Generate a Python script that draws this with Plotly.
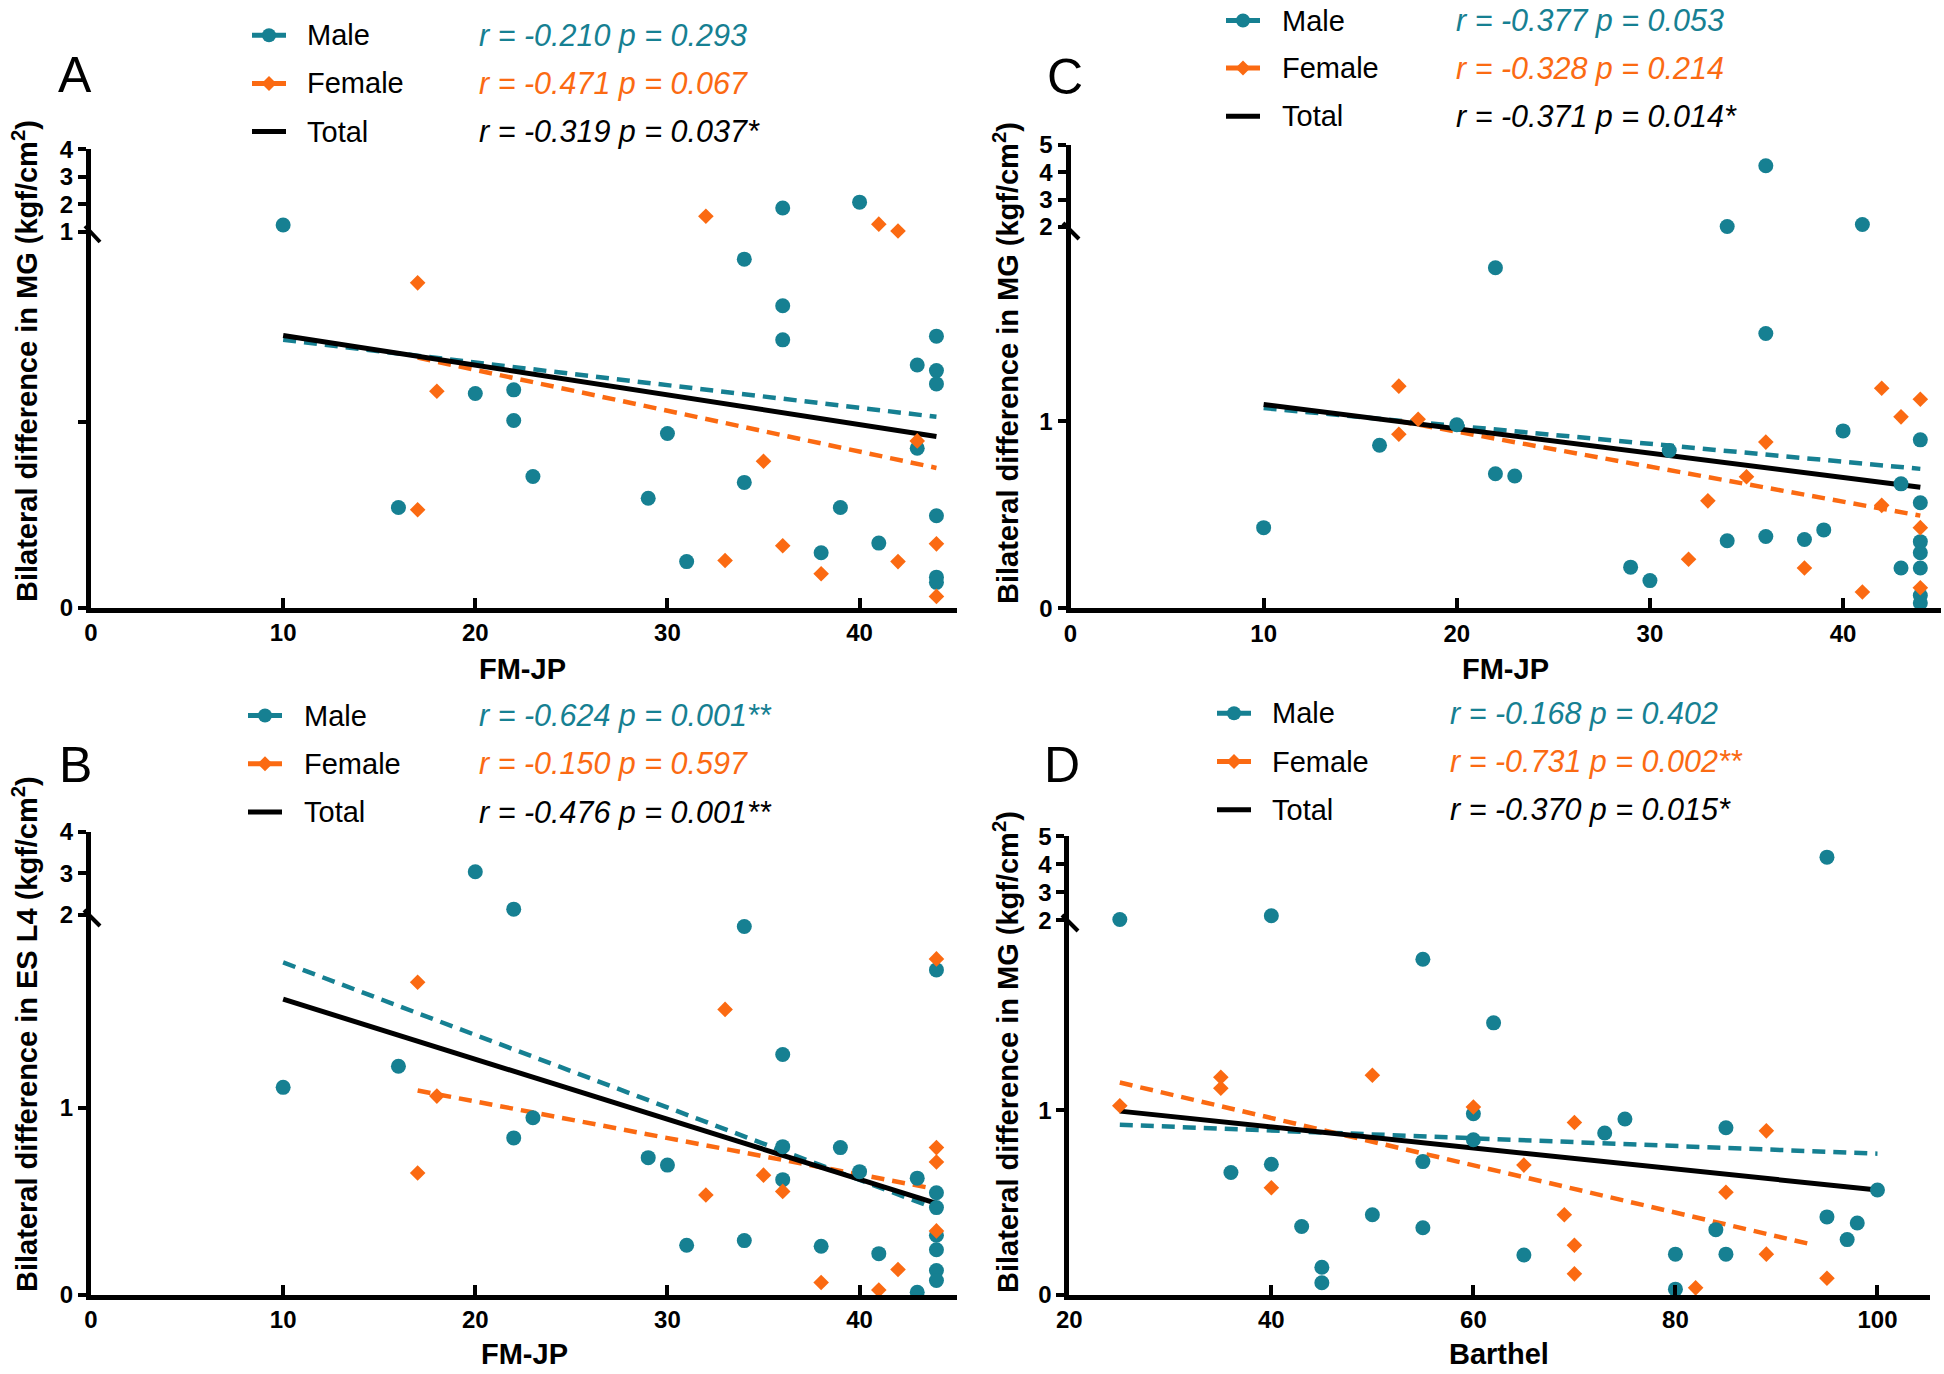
import plotly.graph_objects as go

W, H = 1944, 1374
TEAL = "#168092"
ORANGE = "#FB6A12"
BLACK = "#000000"
FONT = "Liberation Sans, Arial, sans-serif"

# ---------------- DATA ----------------
# Panel A : FM-JP vs bilateral difference in MG
a_male_x = [10, 16, 20, 22, 22, 23, 29, 30, 31, 34, 34, 36, 36, 36, 38, 39, 40, 41, 43, 43, 44, 44, 44, 44, 44, 44]
a_male_y = [1.24, 0.27, 0.578, 0.588, 0.505, 0.354, 0.295, 0.470, 0.124, 0.941, 0.338, 1.86, 0.815, 0.723,
            0.148, 0.27, 2.07, 0.174, 0.655, 0.43, 0.733, 0.64, 0.604, 0.248, 0.082, 0.068]
a_female_x = [17, 17, 18, 32, 33, 35, 36, 38, 41, 42, 42, 43, 44, 44]
a_female_y = [0.877, 0.264, 0.584, 1.56, 0.127, 0.395, 0.167, 0.091, 1.27, 1.02, 0.124, 0.45, 0.172, 0.03]
a_fit_male = ([10, 44], [0.723, 0.515])
a_fit_female = ([17, 44], [0.675, 0.377])
a_fit_total = ([10, 44], [0.735, 0.462])
a_stats = ["r = -0.210 p = 0.293", "r = -0.471 p = 0.067", "r = -0.319 p = 0.037*"]

# Panel B : FM-JP vs bilateral difference in ES L4
b_male_x = [10, 16, 20, 22, 22, 23, 29, 30, 31, 34, 34, 36, 36, 36, 38, 39, 40, 41, 43, 43, 44, 44, 44, 44, 44, 44, 44]
b_male_y = [1.111, 1.224, 3.04, 2.14, 0.84, 0.948, 0.734, 0.694, 0.264, 1.974, 0.289, 1.287, 0.793, 0.616,
            0.259, 0.788, 0.659, 0.219, 0.624, 0.012, 1.741, 0.546, 0.466, 0.318, 0.24, 0.129, 0.075]
b_female_x = [17, 17, 18, 32, 33, 35, 36, 38, 41, 42, 44, 44, 44, 44]
b_female_y = [1.675, 0.652, 1.064, 0.534, 1.529, 0.64, 0.553, 0.064, 0.024, 0.134, 1.8, 0.788, 0.711, 0.341]
b_fit_male = ([10, 44], [1.781, 0.459])
b_fit_female = ([17, 44], [1.094, 0.565])
b_fit_total = ([10, 44], [1.584, 0.489])
b_stats = ["r = -0.624 p = 0.001**", "r = -0.150 p = 0.597", "r = -0.476 p = 0.001**"]

# Panel C : FM-JP vs bilateral difference in MG
c_male_x = [10, 16, 20, 22, 22, 23, 29, 30, 31, 34, 34, 36, 36, 36, 38, 39, 40, 41, 43, 43, 44, 44, 44, 44, 44, 44, 44]
c_male_y = [0.431, 0.871, 0.981, 1.82, 0.719, 0.707, 0.22, 0.148, 0.843, 2.02, 0.361, 4.23, 1.468, 0.384,
            0.368, 0.419, 0.948, 2.09, 0.665, 0.215, 0.9, 0.564, 0.356, 0.297, 0.215, 0.068, 0.028]
c_female_x = [17, 17, 18, 32, 33, 35, 36, 38, 41, 42, 42, 43, 44, 44, 44]
c_female_y = [1.187, 0.93, 1.01, 0.262, 0.574, 0.703, 0.888, 0.215, 0.087, 1.176, 0.55, 1.023, 1.117, 0.431, 0.11]
c_fit_male = ([10, 44], [1.07, 0.745])
c_fit_female = ([17, 44], [1.0, 0.495])
c_fit_total = ([10, 44], [1.089, 0.647])
c_stats = ["r = -0.377 p = 0.053", "r = -0.328 p = 0.214", "r = -0.371 p = 0.014*"]

# Panel D : Barthel vs bilateral difference in MG
d_male_x = [25, 36, 40, 40, 43, 45, 45, 50, 55, 55, 55, 60, 60, 62, 65, 73, 75, 80, 80, 84, 85, 85, 95, 95, 97, 98, 100]
d_male_y = [2.03, 0.662, 2.16, 0.707, 0.369, 0.148, 0.064, 0.433, 1.819, 0.721, 0.362, 0.981, 0.84, 1.474,
            0.214, 0.876, 0.952, 0.219, 0.029, 0.352, 0.905, 0.219, 4.25, 0.421, 0.298, 0.388, 0.567]
d_female_x = [25, 35, 35, 40, 50, 60, 65, 69, 70, 70, 70, 82, 85, 89, 89, 95]
d_female_y = [1.024, 1.179, 1.119, 0.579, 1.19, 1.017, 0.702, 0.433, 0.933, 0.267, 0.112, 0.036, 0.555,
              0.888, 0.219, 0.088]
d_fit_male = ([25, 100], [0.921, 0.764])
d_fit_female = ([25, 93.6], [1.15, 0.27])
d_fit_total = ([25, 100], [0.995, 0.567])
d_stats = ["r = -0.168 p = 0.402", "r = -0.731 p = 0.002**", "r = -0.370 p = 0.015*"]

series_names = ["Male", "Female", "Total"]

# ---------------- LAYOUT SPECS (page-pixel geometry) ----------------
panels = [
    dict(letter="A", xa="x", ylo="y", yhi="y2",
         male=(a_male_x, a_male_y), female=(a_female_x, a_female_y),
         fits=(a_fit_male, a_fit_female, a_fit_total), stats=a_stats,
         xdom=(91, 957), xrange=(0, 45.07), xticks=[0, 10, 20, 30, 40],
         lo_px=(607.5, 234.5), lo_range=(0, 1.0076), lo_ticks=[0], lo_minor=[0.5],
         hi_px=(234.5, 149.1), hi_range=(0.8945, 4), hi_ticks=[1, 2, 3, 4], brk=1.0,
         slash=((85, 226), (100, 242)),
         leg_icon=(252, 286), leg_text=305, leg_stat=477, leg_rows=(35.2, 83.4, 131.6),
         letter_pos=(74.5, 75), ytitle="Bilateral difference in MG (kgf/cm<sup>2</sup>)",
         ytitle_pos=(25, 361), xtitle="FM-JP", xtitle_pos=(522, 669)),
    dict(letter="B", xa="x2", ylo="y3", yhi="y4",
         male=(b_male_x, b_male_y), female=(b_female_x, b_female_y),
         fits=(b_fit_male, b_fit_female, b_fit_total), stats=b_stats,
         xdom=(91, 957), xrange=(0, 45.07), xticks=[0, 10, 20, 30, 40],
         lo_px=(1294.5, 918), lo_range=(0, 2.0193), lo_ticks=[0, 1], lo_minor=[],
         hi_px=(918, 831.7), hi_range=(1.928, 4), hi_ticks=[2, 3, 4], brk=2.0,
         slash=((84, 910), (100, 926)),
         leg_icon=(248, 282), leg_text=302, leg_stat=477, leg_rows=(715.5, 763.8, 812),
         letter_pos=(75, 765), ytitle="Bilateral difference in ES L4 (kgf/cm<sup>2</sup>)",
         ytitle_pos=(25, 1034), xtitle="FM-JP", xtitle_pos=(524, 1354)),
    dict(letter="C", xa="x3", ylo="y5", yhi="y6",
         male=(c_male_x, c_male_y), female=(c_female_x, c_female_y),
         fits=(c_fit_male, c_fit_female, c_fit_total), stats=c_stats,
         xdom=(1070.5, 1941), xrange=(0, 45.07), xticks=[0, 10, 20, 30, 40],
         lo_px=(608.3, 231), lo_range=(0, 2.016), lo_ticks=[0, 1], lo_minor=[],
         hi_px=(231, 144.7), hi_range=(1.854, 5), hi_ticks=[2, 3, 4, 5], brk=2.0,
         slash=((1063, 223), (1079, 239)),
         leg_icon=(1226, 1260), leg_text=1280, leg_stat=1454, leg_rows=(20.5, 68, 116.2),
         letter_pos=(1065, 77), ytitle="Bilateral difference in MG (kgf/cm<sup>2</sup>)",
         ytitle_pos=(1006, 363), xtitle="FM-JP", xtitle_pos=(1505, 669)),
    dict(letter="D", xa="x4", ylo="y7", yhi="y8",
         male=(d_male_x, d_male_y), female=(d_female_x, d_female_y),
         fits=(d_fit_male, d_fit_female, d_fit_total), stats=d_stats,
         xdom=(1069.3, 1930), xrange=(20, 105.2), xticks=[20, 40, 60, 80, 100],
         lo_px=(1294.5, 923), lo_range=(0, 2.0157), lo_ticks=[0, 1], lo_minor=[],
         hi_px=(923, 836.1), hi_range=(1.904, 5), hi_ticks=[2, 3, 4, 5], brk=2.0,
         slash=((1062, 915), (1078, 931)),
         leg_icon=(1217, 1251), leg_text=1270, leg_stat=1448, leg_rows=(713.3, 761.6, 809.8),
         letter_pos=(1062, 765), ytitle="Bilateral difference in MG (kgf/cm<sup>2</sup>)",
         ytitle_pos=(1006, 1052), xtitle="Barthel", xtitle_pos=(1499, 1354)),
]


def px(x):
    return x / W


def py(y):
    return 1 - y / H


def axkey(ref):
    return ref[0] + "axis" + ref[1:]


fig = go.Figure()
layout = dict(template="none", width=W, height=H,
              margin=dict(l=0, r=0, t=0, b=0, pad=0, autoexpand=False),
              paper_bgcolor="white", plot_bgcolor="rgba(0,0,0,0)",
              showlegend=False, font=dict(family=FONT, color="black"))
shapes = []
annotations = []

tickfont = dict(family=FONT, size=24, color="black", weight="bold")
series_colors = [TEAL, ORANGE, BLACK]
AXW = 5

for p in panels:
    xa, ylo, yhi = p["xa"], p["ylo"], p["yhi"]
    x0p, x1p = p["xdom"]
    r0, r1 = p["xrange"]
    scale = (x1p - x0p) / (r1 - r0)
    x1c = min(x1p, W)
    r1c = r0 + (x1c - x0p) / scale
    layout[axkey(xa)] = dict(domain=[max(px(x0p), 0), min(px(x1c), 1)], range=[r0, r1c],
                             anchor=ylo, showline=True, linewidth=AXW, linecolor="black",
                             ticks="inside", ticklen=10, tickwidth=4, tickcolor="black",
                             tickmode="array", tickvals=p["xticks"], tickfont=tickfont,
                             showgrid=False, zeroline=False, automargin=False)
    lo = dict(domain=[py(p["lo_px"][0]), py(p["lo_px"][1])], range=list(p["lo_range"]),
              anchor=xa, showline=True, linewidth=AXW, linecolor="black",
              ticks="outside", ticklen=8, tickwidth=4, tickcolor="black",
              tickmode="array", tickvals=p["lo_ticks"], tickfont=tickfont,
              showgrid=False, zeroline=False, automargin=False)
    if p["lo_minor"]:
        lo["minor"] = dict(tickmode="array", tickvals=p["lo_minor"], ticks="outside", ticklen=8,
                           tickwidth=4, tickcolor="black", showgrid=False)
    layout[axkey(ylo)] = lo
    layout[axkey(yhi)] = dict(domain=[py(p["hi_px"][0]), py(p["hi_px"][1])], range=list(p["hi_range"]),
                              anchor=xa, showline=True, linewidth=AXW, linecolor="black",
                              ticks="outside", ticklen=8, tickwidth=4, tickcolor="black",
                              tickmode="array", tickvals=p["hi_ticks"], tickfont=tickfont,
                              showgrid=False, zeroline=False, automargin=False)

    # fit lines (lower segment)
    for (fx, fy), col, dash in zip(p["fits"], series_colors, ["13px,8px", "13px,8px", "solid"]):
        fig.add_trace(go.Scatter(x=fx, y=fy, mode="lines", xaxis=xa, yaxis=ylo,
                                 line=dict(color=col, width=5 if dash == "solid" else 4.5, dash=dash),
                                 cliponaxis=False, hoverinfo="skip"))

    # scatter points split at axis break
    for (sx, sy), col, sym, size in [(p["male"], TEAL, "circle", 15), (p["female"], ORANGE, "diamond", 12)]:
        lo_x = [x for x, y in zip(sx, sy) if y <= p["brk"]]
        lo_y = [y for y in sy if y <= p["brk"]]
        hi_x = [x for x, y in zip(sx, sy) if y > p["brk"]]
        hi_y = [y for y in sy if y > p["brk"]]
        fig.add_trace(go.Scatter(x=lo_x, y=lo_y, mode="markers", xaxis=xa, yaxis=ylo, cliponaxis=False,
                                 marker=dict(symbol=sym, size=size, color=col, line=dict(width=0))))
        fig.add_trace(go.Scatter(x=hi_x, y=hi_y, mode="markers", xaxis=xa, yaxis=yhi, cliponaxis=False,
                                 marker=dict(symbol=sym, size=size, color=col, line=dict(width=0))))

    # axis-break slash
    (sx0, sy0), (sx1, sy1) = p["slash"]
    shapes.append(dict(type="line", xref="paper", yref="paper", x0=px(sx0), y0=py(sy0), x1=px(sx1), y1=py(sy1),
                       line=dict(color="black", width=4)))

    # legend (manual)
    ix0, ix1 = p["leg_icon"]
    icx = (ix0 + ix1) / 2
    for i, (name, col, stat) in enumerate(zip(series_names, series_colors, p["stats"])):
        ry = p["leg_rows"][i]
        shapes.append(dict(type="line", xref="paper", yref="paper", x0=px(ix0), x1=px(ix1),
                           y0=py(ry), y1=py(ry), line=dict(color=col, width=5)))
        if name == "Male":
            r = 7
            shapes.append(dict(type="circle", xref="paper", yref="paper", x0=px(icx - r), x1=px(icx + r),
                               y0=py(ry + r), y1=py(ry - r), fillcolor=col, line=dict(width=0)))
        elif name == "Female":
            r = 7.5
            path = "M {a},{b} L {c},{d} L {e},{f} L {g},{h} Z".format(
                a=px(icx - r), b=py(ry), c=px(icx), d=py(ry - r), e=px(icx + r), f=py(ry), g=px(icx), h=py(ry + r))
            shapes.append(dict(type="path", xref="paper", yref="paper", path=path, fillcolor=col, line=dict(width=0)))
        annotations.append(dict(x=px(p["leg_text"]), y=py(ry), xref="paper", yref="paper", xanchor="left",
                                yanchor="middle", text=name, showarrow=False,
                                font=dict(family=FONT, size=29, color="black")))
        annotations.append(dict(x=px(p["leg_stat"]), y=py(ry), xref="paper", yref="paper", xanchor="left",
                                yanchor="middle", text="<i>" + stat + "</i>", showarrow=False,
                                font=dict(family=FONT, size=30.5, color=col)))

    annotations.append(dict(x=px(p["letter_pos"][0]), y=py(p["letter_pos"][1]), xref="paper", yref="paper",
                            xanchor="center", yanchor="middle", text=p["letter"], showarrow=False,
                            font=dict(family=FONT, size=50, color="black")))
    annotations.append(dict(x=px(p["ytitle_pos"][0]), y=py(p["ytitle_pos"][1]), xref="paper", yref="paper",
                            xanchor="center", yanchor="middle", text=p["ytitle"], textangle=-90,
                            showarrow=False, font=dict(family=FONT, size=29, color="black", weight="bold")))
    annotations.append(dict(x=px(p["xtitle_pos"][0]), y=py(p["xtitle_pos"][1]), xref="paper", yref="paper",
                            xanchor="center", yanchor="middle", text=p["xtitle"],
                            showarrow=False, font=dict(family=FONT, size=29, color="black", weight="bold")))

layout["shapes"] = shapes
layout["annotations"] = annotations
fig.update_layout(**layout)
fig.write_html("out.html", config={"displayModeBar": False},
               post_script="document.body.style.margin='0';document.body.style.padding='0';"
                           "document.body.style.overflow='hidden';")
